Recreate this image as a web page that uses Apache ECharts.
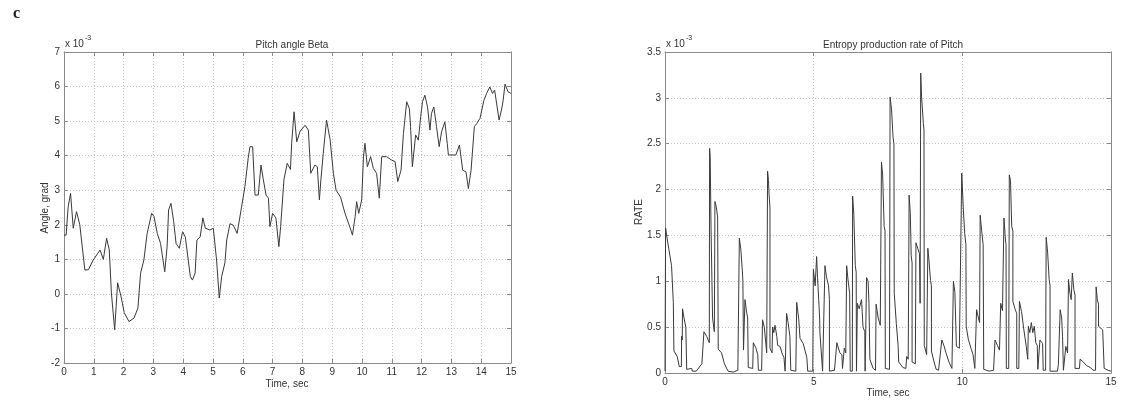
<!DOCTYPE html>
<html>
<head>
<meta charset="utf-8">
<script src="https://cdn.jsdelivr.net/npm/echarts@6/dist/echarts.min.js"></script>
<style>
html,body{margin:0;padding:0;background:#fff;}
#c{width:1123px;height:403px;}
</style>
</head>
<body>
<div id="c"></div>
<script>
// ---- Data (values in units of 1e-3) ----
const pitchT = [0.00,0.07,0.14,0.22,0.31,0.42,0.53,0.70,0.82,0.98,1.21,1.32,1.43,1.52,1.59,1.70,1.75,1.80,1.91,2.02,2.18,2.35,2.48,2.57,2.68,2.79,2.94,3.02,3.13,3.24,3.38,3.46,3.51,3.59,3.68,3.76,3.87,3.98,4.07,4.24,4.31,4.40,4.46,4.57,4.66,4.74,4.90,5.01,5.12,5.21,5.29,5.40,5.46,5.57,5.68,5.81,5.96,6.07,6.18,6.24,6.33,6.41,6.52,6.61,6.69,6.78,6.86,6.91,7.00,7.11,7.21,7.27,7.38,7.49,7.60,7.64,7.72,7.81,7.92,8.09,8.20,8.28,8.42,8.50,8.57,8.62,8.70,8.81,8.93,9.04,9.13,9.28,9.43,9.57,9.68,9.77,9.82,9.89,9.99,10.05,10.10,10.18,10.29,10.38,10.49,10.58,10.66,10.72,10.83,11.00,11.11,11.20,11.31,11.39,11.50,11.59,11.63,11.69,11.80,11.89,11.97,12.03,12.11,12.20,12.28,12.33,12.41,12.50,12.59,12.67,12.78,12.86,12.90,13.15,13.27,13.38,13.49,13.57,13.66,13.77,13.85,13.96,14.09,14.18,14.29,14.38,14.45,14.51,14.60,14.68,14.73,14.80,14.90,15.00];
const pitchV = [1.70,1.70,2.52,2.91,1.90,2.38,2.00,0.69,0.70,0.98,1.27,1.00,1.61,1.27,0.03,-1.04,-0.36,0.32,-0.06,-0.54,-0.80,-0.70,-0.41,0.60,0.98,1.75,2.33,2.24,1.75,1.46,0.64,1.36,2.43,2.62,2.10,1.46,1.32,1.80,1.65,0.50,0.40,0.60,1.56,1.65,2.20,1.90,1.85,1.90,0.98,-0.12,0.50,0.90,1.56,2.03,1.99,1.75,2.52,3.10,3.92,4.26,4.26,2.86,2.86,3.73,3.30,2.86,2.77,1.95,2.33,2.20,1.37,1.95,3.30,3.78,3.60,4.36,5.27,4.40,4.70,4.88,4.74,3.49,3.73,3.68,2.72,3.30,4.07,5.03,4.46,3.49,3.00,2.80,2.33,1.99,1.70,2.24,2.67,2.33,2.72,3.97,4.36,3.68,3.97,3.63,3.49,2.77,3.97,4.02,3.97,3.87,3.83,3.25,3.58,4.64,5.56,5.36,4.84,3.68,4.60,4.45,5.13,5.56,5.75,5.41,4.74,5.22,5.41,4.84,4.26,4.69,4.98,4.36,4.02,4.02,4.31,3.58,3.53,3.05,3.58,4.84,4.93,5.08,5.60,5.80,5.99,5.80,5.90,5.85,5.03,5.32,5.56,6.07,5.85,5.80];

const rateT = [0.00,0.02,0.08,0.13,0.22,0.28,0.30,0.30,0.41,0.47,0.48,0.55,0.56,0.58,0.59,0.64,0.70,0.73,0.73,0.79,0.90,0.92,1.05,1.10,1.24,1.30,1.31,1.40,1.49,1.50,1.50,1.52,1.55,1.59,1.60,1.66,1.68,1.73,1.77,1.79,1.79,1.90,2.00,2.12,2.30,2.45,2.50,2.50,2.55,2.60,2.62,2.64,2.69,2.75,2.78,2.80,2.80,2.95,2.97,3.05,3.12,3.14,3.25,3.28,3.34,3.40,3.42,3.45,3.48,3.50,3.53,3.53,3.60,3.62,3.66,3.68,3.70,3.76,3.79,3.87,3.95,4.00,4.04,4.09,4.14,4.20,4.23,4.23,4.40,4.43,4.50,4.54,4.54,4.65,4.77,4.80,4.97,4.99,5.05,5.10,5.13,5.17,5.20,5.21,5.27,5.30,5.36,5.38,5.43,5.50,5.53,5.53,5.70,5.78,5.88,5.95,5.97,6.03,6.08,6.11,6.16,6.21,6.23,6.30,6.31,6.35,6.40,6.43,6.44,6.47,6.53,6.61,6.66,6.72,6.73,6.78,6.83,6.86,6.89,6.89,7.00,7.08,7.10,7.17,7.24,7.27,7.28,7.32,7.37,7.40,7.41,7.55,7.57,7.62,7.67,7.70,7.71,7.78,7.84,7.86,8.00,8.10,8.13,8.18,8.21,8.25,8.28,8.31,8.31,8.42,8.44,8.50,8.56,8.58,8.60,8.63,8.69,8.71,8.72,8.80,8.84,8.88,8.93,8.96,8.96,9.05,9.12,9.20,9.31,9.38,9.45,9.55,9.65,9.70,9.75,9.80,9.90,9.96,9.98,10.03,10.08,10.12,10.13,10.20,10.30,10.36,10.42,10.46,10.48,10.54,10.58,10.60,10.65,10.70,10.72,10.90,11.05,11.10,11.18,11.25,11.29,11.35,11.40,11.45,11.47,11.48,11.56,11.58,11.62,11.66,11.70,11.70,11.78,11.83,11.83,11.90,11.92,11.99,12.07,12.15,12.20,12.22,12.27,12.32,12.37,12.42,12.47,12.52,12.54,12.58,12.61,12.70,12.72,12.80,12.82,12.87,12.92,12.95,12.95,13.20,13.23,13.27,13.29,13.34,13.37,13.40,13.40,13.46,13.48,13.54,13.57,13.62,13.66,13.70,13.75,13.79,13.79,13.94,13.96,14.07,14.18,14.30,14.40,14.48,14.50,14.54,14.58,14.58,14.72,14.76,14.77,14.90,15.00];
const rateV = [0.02,1.58,1.45,1.35,1.17,0.77,0.77,0.24,0.18,0.16,0.07,0.07,0.40,0.36,0.70,0.60,0.50,0.50,0.04,0.06,0.05,0.02,0.02,0.04,0.10,0.08,0.45,0.40,0.33,0.33,2.45,2.35,1.55,1.55,0.60,0.45,1.87,1.80,1.70,1.70,0.26,0.22,0.10,0.02,0.01,0.03,0.05,1.47,1.35,1.12,1.00,0.25,0.80,0.65,0.60,0.60,0.06,0.05,0.33,0.28,0.20,0.03,0.03,0.58,0.50,0.48,0.22,2.20,2.10,1.95,1.80,0.27,0.22,0.50,0.44,0.45,0.52,0.40,0.30,0.29,0.20,0.17,0.02,0.65,0.55,0.40,0.40,0.03,0.02,0.77,0.58,0.58,0.38,0.32,0.17,0.02,0.02,1.13,0.95,1.27,1.04,0.80,0.60,0.44,0.42,0.02,0.02,1.17,1.05,0.95,0.80,0.02,0.03,0.33,0.22,0.20,0.05,0.27,0.22,1.17,1.00,0.87,0.02,0.02,1.93,1.73,1.17,1.10,0.02,0.76,0.70,0.80,0.50,0.45,0.02,1.04,1.00,0.76,0.76,0.15,0.05,0.03,0.75,0.60,0.52,0.52,2.30,2.16,1.60,1.55,0.05,0.04,3.01,2.87,2.57,2.50,0.87,0.54,0.30,0.12,0.06,0.05,0.18,0.15,1.94,1.74,1.28,1.20,0.12,0.10,1.42,1.36,1.30,0.76,3.27,3.01,2.72,2.65,0.30,0.20,1.36,1.22,1.01,0.95,0.24,0.12,0.04,0.03,0.36,0.30,0.22,0.12,0.05,1.00,0.88,0.29,0.27,0.25,2.18,1.81,1.52,1.40,0.51,0.37,0.26,0.20,0.05,0.03,0.69,0.60,0.55,1.72,1.55,1.40,0.04,0.02,0.03,0.36,0.30,0.25,0.76,0.68,1.69,1.45,1.40,0.05,0.05,2.16,2.10,1.60,1.55,0.78,0.69,0.65,0.05,0.05,0.78,0.67,0.47,0.29,0.15,0.51,0.44,0.55,0.44,0.51,0.33,0.30,0.04,0.04,0.36,0.32,0.03,0.03,1.48,1.31,1.02,0.95,0.02,0.02,0.09,0.08,0.69,0.60,0.40,0.38,0.03,0.03,0.29,0.22,1.02,0.87,0.80,1.09,0.91,0.85,0.05,0.05,0.15,0.12,0.08,0.06,0.03,0.03,0.94,0.80,0.75,0.51,0.47,0.45,0.05,0.03,0.02];

const pitchTitle = 'Pitch angle Beta';
const rateTitle = 'Entropy production rate of Pitch';
const xName = 'Time, sec';
const pitchYName = 'Angle, grad';
const rateYName = 'RATE';
const panelLabel = 'c';

const pitchData = pitchT.map((t, i) => [t, pitchV[i]]);
const rateData = rateT.map((t, i) => [t, rateV[i]]);

const FONT = '"Liberation Sans", Arial, sans-serif';
const TXT = '#333';
const AXC = '#8a8a8a';

function xAx(grid, min, max, interval, pos, labels) {
  return {
    type: 'value', gridIndex: grid, min, max, interval, position: pos,
    axisLine: { show: true, onZero: false, lineStyle: { color: AXC, width: 1 } },
    axisTick: { show: true, inside: true, length: 4, lineStyle: { color: AXC } },
    axisLabel: { show: labels, color: TXT, fontSize: 10, fontFamily: FONT, margin: 4 },
    splitLine: { show: labels, lineStyle: { color: '#c4c4c4', type: [1, 2], width: 1 } }
  };
}
function yAx(grid, min, max, interval, pos, labels) {
  return {
    type: 'value', gridIndex: grid, min, max, interval, position: pos,
    axisLine: { show: true, onZero: false, lineStyle: { color: AXC, width: 1 } },
    axisTick: { show: true, inside: true, length: 4, lineStyle: { color: AXC } },
    axisLabel: { show: labels, color: TXT, fontSize: 10, fontFamily: FONT, margin: 4 },
    splitLine: { show: labels, lineStyle: { color: '#c4c4c4', type: [1, 2], width: 1 } }
  };
}

const chart = echarts.init(document.getElementById('c'), null, { renderer: 'canvas' });
chart.setOption({
  animation: false,
  backgroundColor: '#fff',
  title: [
    { text: pitchTitle, left: 287, top: 35, textAlign: 'center',
      textStyle: { fontSize: 10, fontWeight: 'normal', color: TXT, fontFamily: FONT } },
    { text: rateTitle, left: 888, top: 35, textAlign: 'center',
      textStyle: { fontSize: 10, fontWeight: 'normal', color: TXT, fontFamily: FONT } }
  ],
  grid: [
    { left: 64, right: 612, top: 52, bottom: 40 },
    { left: 665, right: 12, top: 52, bottom: 30 }
  ],
  xAxis: [
    xAx(0, 0, 15, 1, 'bottom', true),
    xAx(0, 0, 15, 1, 'top', false),
    xAx(1, 0, 15, 5, 'bottom', true),
    xAx(1, 0, 15, 5, 'top', false)
  ],
  yAxis: [
    yAx(0, -2, 7, 1, 'left', true),
    yAx(0, -2, 7, 1, 'right', false),
    yAx(1, 0, 3.5, 0.5, 'left', true),
    yAx(1, 0, 3.5, 0.5, 'right', false)
  ],
  series: [
    { type: 'line', xAxisIndex: 0, yAxisIndex: 0, data: pitchData, showSymbol: false,
      lineStyle: { color: '#3a3a3a', width: 1 } },
    { type: 'line', xAxisIndex: 2, yAxisIndex: 2, data: rateData, showSymbol: false,
      lineStyle: { color: '#3a3a3a', width: 1 } }
  ],
  graphic: [
    { type: 'text', left: 13, top: 6, style: { text: panelLabel, font: 'bold 16px "Liberation Serif", serif', fill: '#222' } },
    { type: 'text', left: 65, top: 39, style: { text: 'x 10', font: '10px ' + FONT, fill: TXT } },
    { type: 'text', left: 85, top: 35, style: { text: '-3', font: '7px ' + FONT, fill: TXT } },
    { type: 'text', left: 666, top: 39, style: { text: 'x 10', font: '10px ' + FONT, fill: TXT } },
    { type: 'text', left: 686, top: 35, style: { text: '-3', font: '7px ' + FONT, fill: TXT } },
    { type: 'text', x: 287, y: 379, style: { text: xName, font: '10px ' + FONT, fill: TXT, align: 'center', verticalAlign: 'top' } },
    { type: 'text', x: 888, y: 388, style: { text: xName, font: '10px ' + FONT, fill: TXT, align: 'center', verticalAlign: 'top' } },
    { type: 'text', x: 45, y: 208, rotation: Math.PI / 2, style: { text: pitchYName, font: '10px ' + FONT, fill: TXT, align: 'center', verticalAlign: 'middle' } },
    { type: 'text', x: 639, y: 212, rotation: Math.PI / 2, style: { text: rateYName, font: '10px ' + FONT, fill: TXT, align: 'center', verticalAlign: 'middle' } }
  ]
});
</script>
</body>
</html>
